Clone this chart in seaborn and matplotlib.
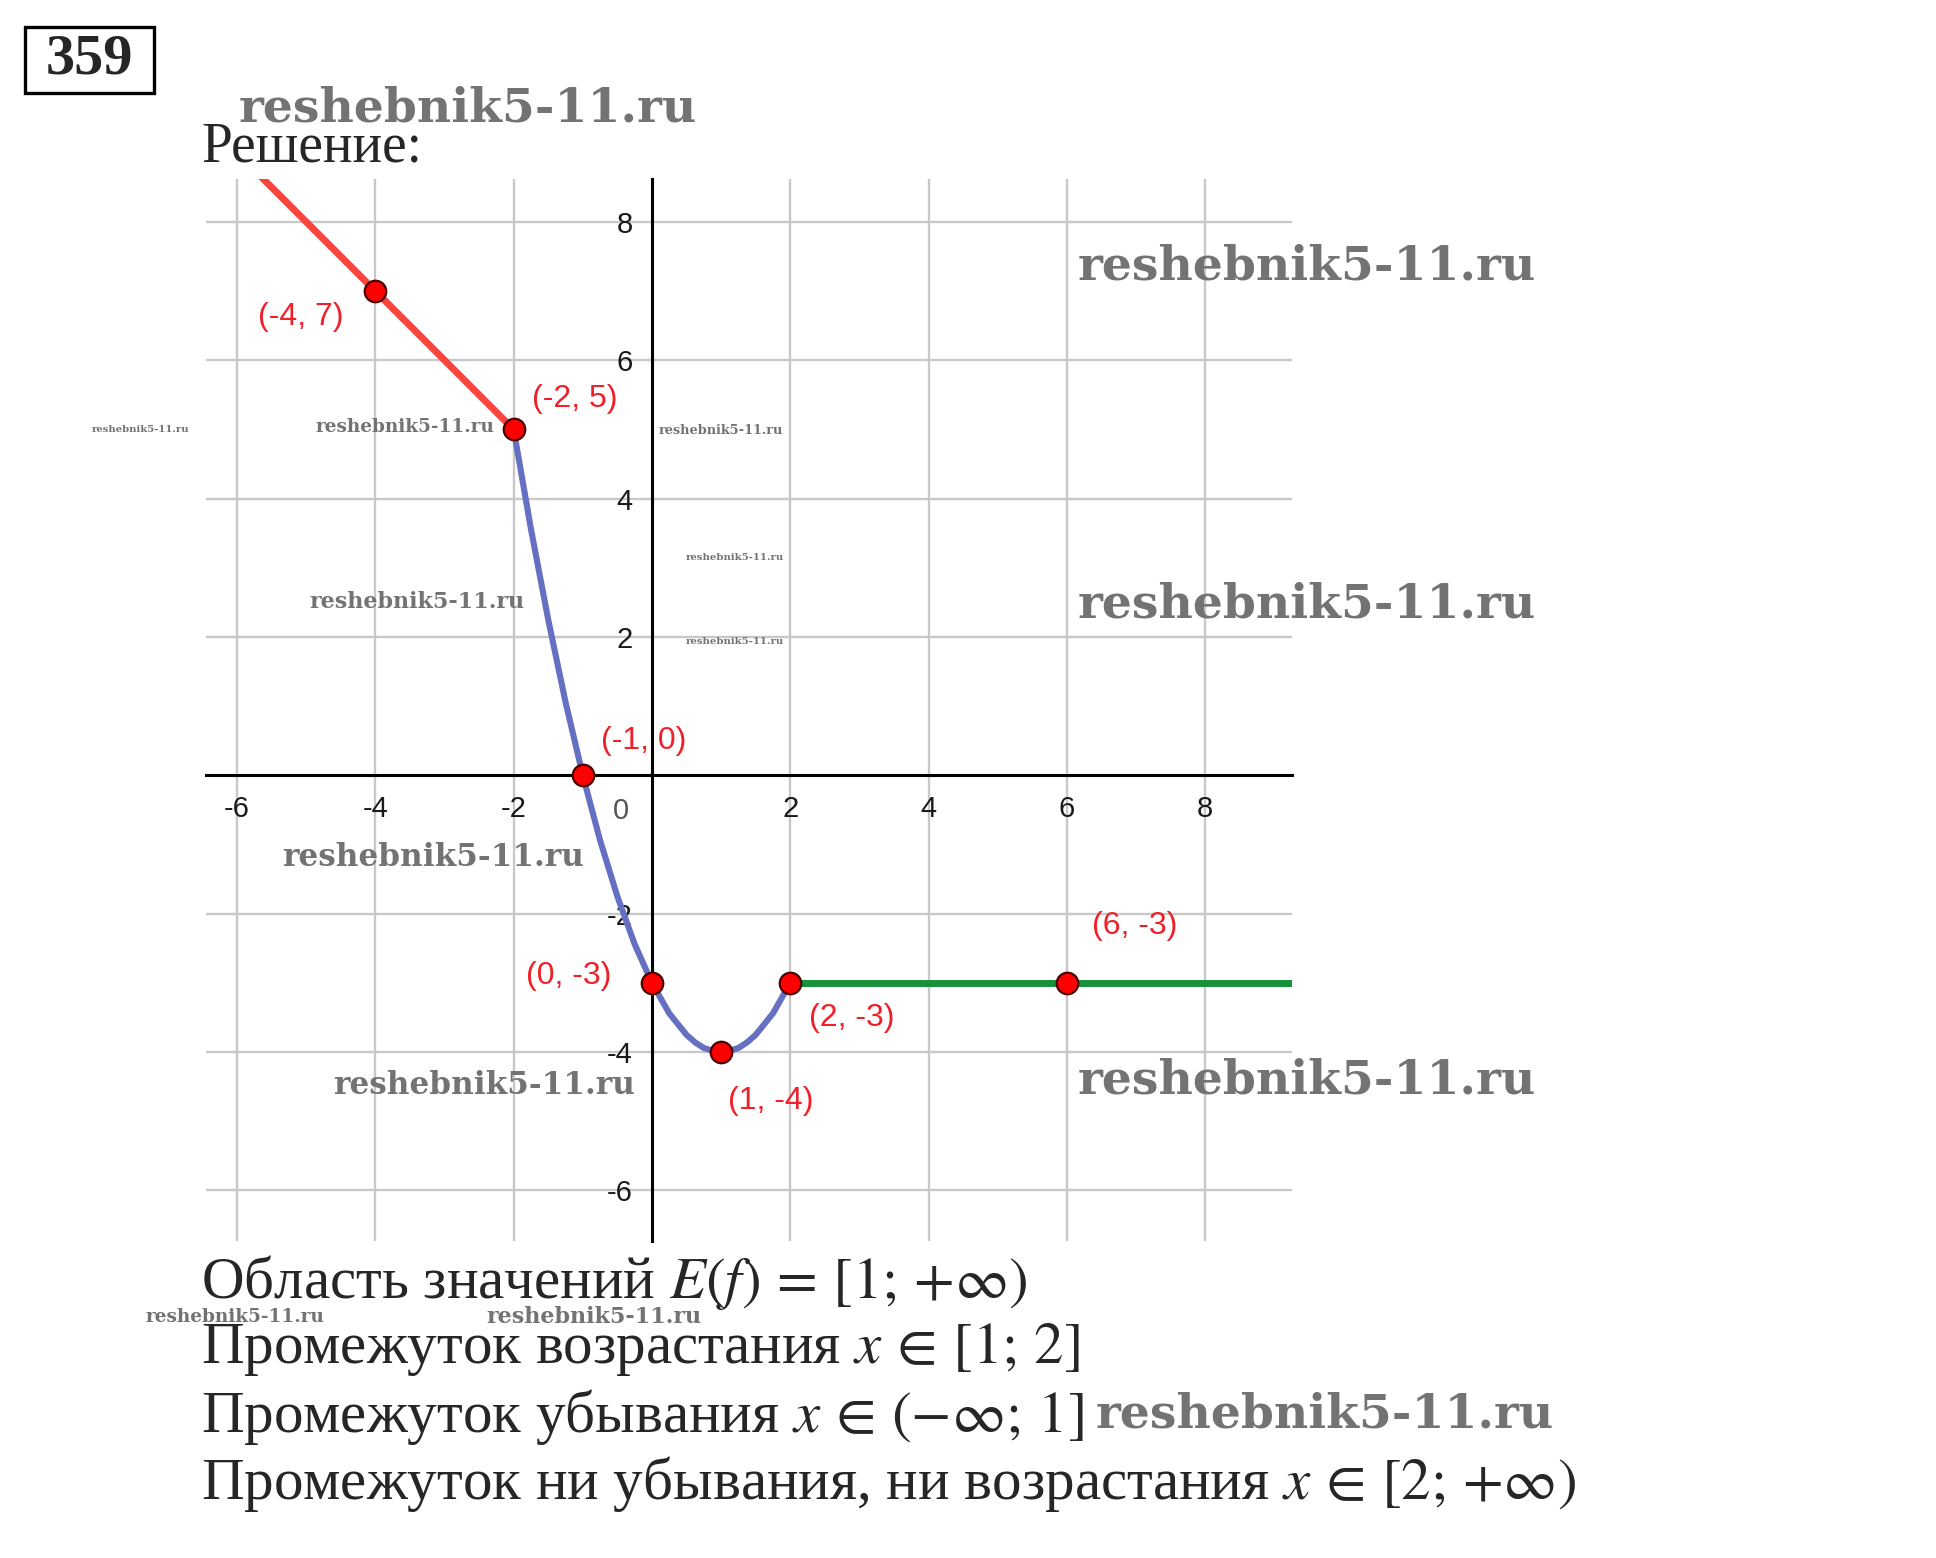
import matplotlib

matplotlib.use("Agg")
import matplotlib.pyplot as plt
import seaborn as sns
from matplotlib.patches import Rectangle

# Piecewise function
RED_X = [-7.0, -4.0, -2.0]
RED_Y = [10.0, 7.0, 5.0]
BLUE_X = [-2, -1.75, -1.5, -1.25, -1, -0.75, -0.5, -0.25, 0,
          0.25, 0.5, 0.625, 0.75, 0.875, 1, 1.125, 1.25, 1.375, 1.5, 1.75, 2]
BLUE_Y = [5, 3.56, 2.25, 1.06, 0, -0.94, -1.75, -2.44, -3,
          -3.44, -3.75, -3.86, -3.94, -3.98, -4, -3.98, -3.94, -3.86, -3.75, -3.44, -3]
GREEN_X = [2, 6, 10]
GREEN_Y = [-3, -3, -3]

POINT_X = [-4, -2, -1, 0, 1, 2, 6]
POINT_Y = [7, 5, 0, -3, -4, -3, -3]
POINT_LABELS = ["(-4, 7)", "(-2, 5)", "(-1, 0)", "(0, -3)", "(1, -4)", "(2, -3)", "(6, -3)"]

X_TICKS = [-6, -4, -2, 2, 4, 6, 8]
Y_TICKS = [-6, -4, -2, 2, 4, 6, 8]

TITLE = "Решение:"
ANSWER_LINES = [
    r"Область значений $E(f)\,=\,[1;\,{+}\infty)$",
    r"Промежуток возрастания $x\,\in\,[1;\,2]$",
    r"Промежуток убывания $x\,\in\,({-}\infty;\,1]$",
    r"Промежуток ни убывания, ни возрастания $x\,\in\,[2;\,{+}\infty)$",
]
WATERMARK = "reshebnik5-11.ru"

W, H = 1936, 1558


def fx(px):
    return px / W


def fy(py):
    return 1 - py / H


sns.set_theme(style="white")
plt.rcParams["font.family"] = ["Liberation Serif", "DejaVu Serif"]
plt.rcParams["mathtext.fontset"] = "stix"
plt.rcParams["axes.unicode_minus"] = False

fig = plt.figure(figsize=(W / 100, H / 100), dpi=100)
ax = fig.add_axes([fx(206), fy(1241), fx(1291.5 - 206), (1241 - 179) / H])

line_kw = dict(ax=ax, sort=False, estimator=None, zorder=3,
               solid_joinstyle="round", solid_capstyle="butt")
sns.lineplot(x=RED_X, y=RED_Y, color="#f8463f", lw=5.0, **line_kw)
sns.lineplot(x=BLUE_X, y=BLUE_Y, color="#6570c2", lw=4.4, **line_kw)
sns.lineplot(x=GREEN_X, y=GREEN_Y, color="#16923a", lw=5.0, **line_kw)
sns.scatterplot(x=POINT_X, y=POINT_Y, ax=ax, color="#ff0000", s=240,
                edgecolor="#4a0000", linewidth=1.6, zorder=5)

# label offsets in points relative to each point
offsets = [(-54, -19), (44, 22), (44, 25), (-60, 5), (36, -35), (44, -25), (49, 41)]
for x, y, lab, off in zip(POINT_X, POINT_Y, POINT_LABELS, offsets):
    ax.annotate(lab, (x, y), xytext=off, textcoords="offset points",
                ha="center", va="center", color="#f0202a", fontsize=23,
                family="Liberation Sans", zorder=6)

ax.set_xlim(-6.45, 9.25)
ax.set_ylim(-6.73, 8.62)
ax.set_xticks(X_TICKS)
ax.set_yticks(Y_TICKS)
ax.grid(True, color="#c8c8c8", lw=1.7)
ax.set_axisbelow(True)
for side in ("top", "right"):
    ax.spines[side].set_visible(False)
for side in ("left", "bottom"):
    ax.spines[side].set_position("zero")
    ax.spines[side].set_color("black")
    ax.spines[side].set_linewidth(2.2)
    ax.spines[side].set_zorder(2.5)
ax.tick_params(length=0, labelsize=21, labelcolor="#1a1a1a", pad=14)
for lab in ax.get_xticklabels() + ax.get_yticklabels():
    lab.set_family("Liberation Sans")
ax.annotate("0", (0, 0), xytext=(-22, -26), textcoords="offset points",
            ha="center", va="center", fontsize=21, color="#555555",
            family="Liberation Sans")

# problem number box
fig.patches.append(Rectangle((fx(25), fy(93)), fx(154 - 25), (93 - 27) / H,
                             transform=fig.transFigure, fill=False,
                             edgecolor="black", lw=2.4))
fig.text(fx(89.5), fy(60), "359", ha="center", va="center", fontsize=42,
         fontweight="bold")

fig.text(fx(201), fy(148), TITLE, ha="left", va="center", fontsize=40)
for i, line in enumerate(ANSWER_LINES):
    fig.text(fx(201), fy(1282 + 67.5 * i), line, ha="left", va="center",
             fontsize=42.5)

# site watermarks (centre x, centre y in pixels, font size)
marks = [
    (468, 109, 34), (1307, 267, 34), (1307, 604, 34), (1307, 1080, 34),
    (1325, 1415, 34), (417, 602, 16), (433, 858, 22.4), (484, 1086, 22.4),
    (405, 427, 13.3), (140, 430, 7.2), (721, 431, 9.3), (735, 558, 7.3),
    (735, 641, 7.3), (235, 1317, 13.3), (594, 1317, 16),
]
for mx, my, size in marks:
    fig.text(fx(mx), fy(my), WATERMARK, ha="center", va="center",
             fontsize=size, fontweight="bold", family="DejaVu Serif",
             color="#737373", zorder=10)

fig.savefig("out.png", dpi=100)
